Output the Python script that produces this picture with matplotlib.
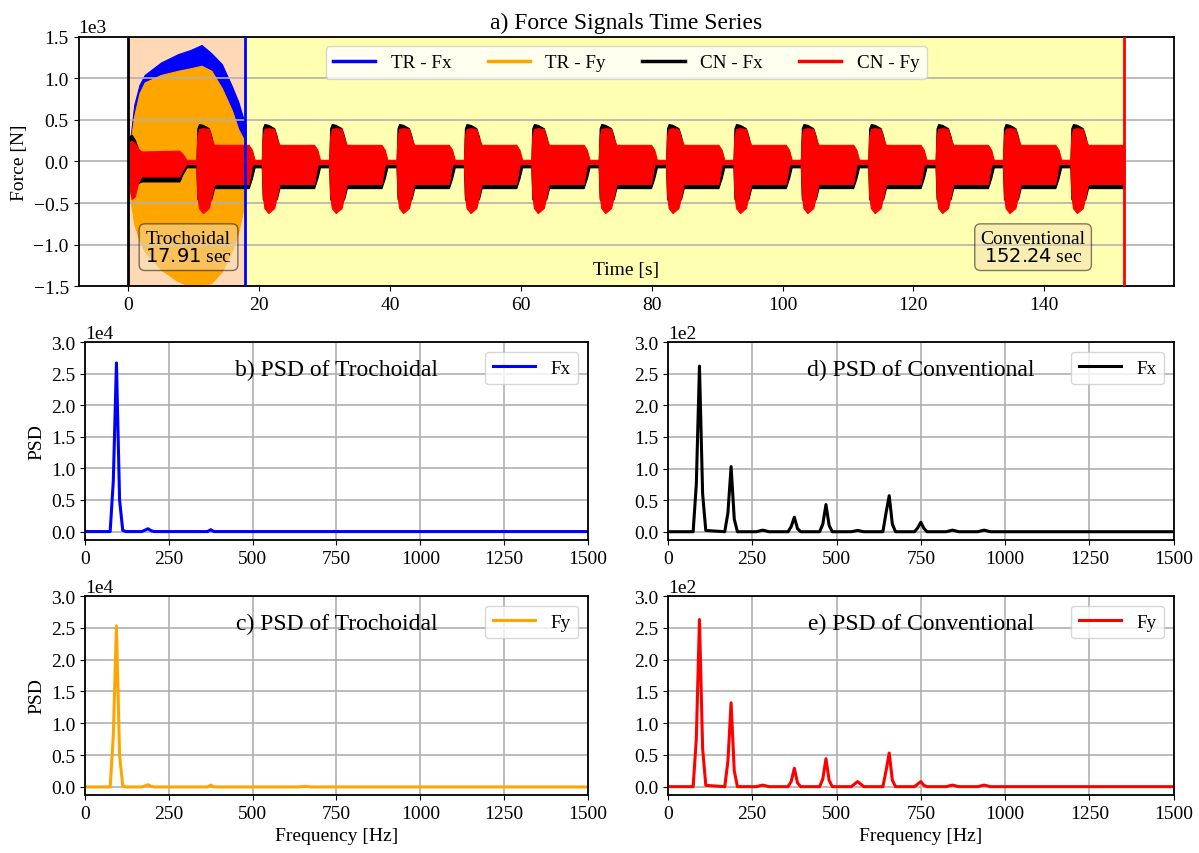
import matplotlib.pyplot as plt
import numpy as np
from matplotlib.lines import Line2D
from matplotlib.ticker import MultipleLocator

plt.rcParams['font.family'] = ['Liberation Serif', 'DejaVu Serif']
plt.rcParams['mathtext.fontset'] = 'dejavusans'
plt.rcParams['axes.linewidth'] = 1.3
plt.rcParams['grid.color'] = '#b0b0b0'
plt.rcParams['grid.linewidth'] = 1.2

# machining times [s]
tr_end = 17.91
cn_end = 152.24

# trochoidal force envelopes [N]
tr_t = [0, 0.4, 0.9, 1.7, 2.5, 5.0, 7.6, 9.5, 11.2, 12.7, 14.3, 15.8, 16.8, 17.6, 17.91]
tr_fx_hi = [250, 330, 680, 920, 1040, 1190, 1290, 1340, 1400, 1300, 1170, 910, 720, 510, 450]
tr_fx_lo = [0, 0, 0, 0, 0, 0, 0, 0, 0, 0, 0, 0, 0, 0, 0]
tr_fy_hi = [250, 270, 550, 820, 950, 1040, 1090, 1120, 1150, 1090, 880, 620, 390, 270, 200]
tr_fy_lo = [-250, -500, -750, -950, -1080, -1300, -1440, -1500, -1500, -1460, -1320, -1080, -850, -570, -350]

# conventional force envelopes [N], first (shorter) pass
cn_first_t = [0, 0.15, 0.5, 1.0, 1.5, 2.0, 7.8, 8.3, 8.9]
cn_first_fy_hi = [0, 230, 250, 220, 150, 120, 130, 90, 20]
cn_first_fy_lo = [0, -300, -450, -420, -250, -180, -180, -100, -30]
cn_first_fx_hi = [0, 300, 320, 260, 150, 100, 100, 60, -30]
cn_first_fx_lo = [-50, -290, -300, -290, -260, -240, -240, -150, -70]

# following passes: start times and envelope of one pass
cn_onsets = [10.4, 20.4, 30.7, 41.0, 51.3, 61.6, 71.9, 82.2, 92.5, 102.8, 113.1, 123.4, 133.7, 144.0]
pass_off = [0, 0.15, 0.4, 1.0, 1.9, 2.3, 2.7, 8.0, 8.5, 8.9]
pass_fy_hi = [20, 300, 390, 400, 390, 280, 200, 200, 140, 20]
pass_fy_lo = [-30, -400, -560, -620, -560, -420, -270, -270, -40, -30]
pass_fx_hi = [-30, 400, 450, 440, 400, 300, 150, 150, 60, -30]
pass_fx_lo = [-70, -450, -480, -500, -480, -450, -320, -320, -200, -70]

# PSD (breakpoints of the spectra)
f_tr = [0, 75, 84.4, 93.75, 103.1, 112.5, 121.9, 168.75, 178.1, 187.5, 196.9, 206.25,
        365.6, 375, 384.4, 637.5, 656.25, 675, 1500]
psd_tr_fx = [0, 0, 8000, 26700, 5000, 200, 0, 0, 200, 450, 150, 0, 0, 300, 0, 0, 0, 0, 0]
psd_tr_fy = [0, 0, 8000, 25300, 5000, 200, 0, 0, 150, 350, 100, 0, 0, 300, 0, 0, 100, 0, 0]

f_cn = [0, 75, 84.4, 93.75, 103.1, 112.5, 168.75, 178.1, 187.5, 196.9, 206.25,
        262.5, 281.25, 300, 356.25, 365.6, 375, 384.4, 393.75, 450, 459.4, 468.75, 478.1, 487.5,
        543.75, 562.5, 581.25, 637.5, 646.9, 656.25, 665.6, 675, 731.25, 740.6, 750, 759.4, 768.75,
        825, 843.75, 862.5, 918.75, 937.5, 956.25, 1500]
psd_cn_fx = [0, 0, 75, 262, 60, 2, 0, 30, 103, 20, 0,
             0, 2.5, 0, 0, 8, 23, 5, 0, 0, 12, 43, 10, 0,
             0, 2, 0, 0, 30, 57, 12, 0, 0, 6, 15, 5, 0,
             0, 2.5, 0, 0, 2.5, 0, 0]
psd_cn_fy = [0, 0, 75, 263, 60, 2, 0, 40, 132, 25, 0,
             0, 2.5, 0, 0, 8, 29, 6, 0, 0, 12, 44, 10, 0,
             0, 8, 0, 0, 25, 53, 10, 0, 0, 4, 8, 2, 0,
             0, 2.5, 0, 0, 2.5, 0, 0]

# assemble conventional envelopes
cn_t = list(cn_first_t)
cn_fy_hi = list(cn_first_fy_hi)
cn_fy_lo = list(cn_first_fy_lo)
cn_fx_hi = list(cn_first_fx_hi)
cn_fx_lo = list(cn_first_fx_lo)
for s in cn_onsets:
    for k, o in enumerate(pass_off):
        if s + o > cn_end:
            break
        cn_t.append(s + o)
        cn_fy_hi.append(pass_fy_hi[k])
        cn_fy_lo.append(pass_fy_lo[k])
        cn_fx_hi.append(pass_fx_hi[k])
        cn_fx_lo.append(pass_fx_lo[k])
cn_t.append(cn_end)
for a in (cn_fy_hi, cn_fy_lo, cn_fx_hi, cn_fx_lo):
    a.append(a[-1])

fig = plt.figure(figsize=(11.99, 8.54), dpi=100)
ax = fig.add_axes([0.0655, 0.6636, 0.9137, 0.2923])

ax.axvspan(0, tr_end, color='tab:orange', alpha=0.3, lw=0)
ax.axvspan(tr_end, cn_end, color='yellow', alpha=0.3, lw=0)

ax.fill_between(tr_t, tr_fx_lo, tr_fx_hi, color='blue', lw=0.8)
ax.fill_between(tr_t, tr_fy_lo, tr_fy_hi, color='orange', lw=0.8)
ax.fill_between(cn_t, cn_fx_lo, cn_fx_hi, color='black', lw=0.8, zorder=2)
ax.fill_between(cn_t, cn_fy_lo, cn_fy_hi, color='red', lw=0.8, zorder=2)

ax.axvline(0, color='black', lw=2, zorder=3)
ax.axvline(tr_end, color='blue', lw=2, zorder=3)
ax.axvline(cn_end, color='red', lw=2, zorder=3)

handles = [Line2D([], [], color='blue', lw=2.5), Line2D([], [], color='orange', lw=2.5),
           Line2D([], [], color='black', lw=2.5), Line2D([], [], color='red', lw=2.5)]
ax.legend(handles, ['TR - Fx', 'TR - Fy', 'CN - Fx', 'CN - Fy'], loc='upper center', ncol=4,
          fontsize=13.8, handlelength=2.2, columnspacing=1.9)

box = dict(boxstyle='round', facecolor='wheat', alpha=0.5)
ax.text(9.2, -1030, 'Trochoidal\n$%.2f$ sec' % tr_end, fontsize=14, ha='center', va='center',
        linespacing=1.0, bbox=box, zorder=4)
ax.text(138.3, -1030, 'Conventional\n$%.2f$ sec' % cn_end, fontsize=14, ha='center', va='center',
        linespacing=1.0, bbox=box, zorder=4)

ax.set_ylim(-1500, 1500)
ax.ticklabel_format(axis='y', style='sci', scilimits=(0, 0))
ax.grid(axis='y')
ax.set_ylabel('Force [N]', fontsize=14)
ax.set_xlabel('Time [s]', fontsize=14)
ax.xaxis.set_label_coords(0.5, 0.1)
ax.set_title('a) Force Signals Time Series', fontsize=17)
ax.tick_params(labelsize=14)
ax.yaxis.get_offset_text().set_fontsize(14)

psd_panels = [
    ([0.0709, 0.3665, 0.4195, 0.2318], f_tr, psd_tr_fx, 'blue', 'Fx', 'b) PSD of Trochoidal', 3e4),
    ([0.0709, 0.0679, 0.4195, 0.2330], f_tr, psd_tr_fy, 'orange', 'Fy', 'c) PSD of Trochoidal', 3e4),
    ([0.5570, 0.3665, 0.4220, 0.2318], f_cn, psd_cn_fx, 'black', 'Fx', 'd) PSD of Conventional', 3e2),
    ([0.5570, 0.0679, 0.4220, 0.2330], f_cn, psd_cn_fy, 'red', 'Fy', 'e) PSD of Conventional', 3e2),
]
for i, (rect, f, p, c, lab, title, top) in enumerate(psd_panels):
    a = fig.add_axes(rect)
    a.plot(f, p, color=c, lw=2.2, label=lab)
    a.set_xlim(0, 1500)
    a.set_ylim(top=top)
    a.xaxis.set_major_locator(MultipleLocator(250))
    a.yaxis.set_major_locator(MultipleLocator(top / 6))
    a.ticklabel_format(axis='y', style='sci', scilimits=(0, 0))
    a.grid(True)
    a.legend(loc='upper right', fontsize=13.8, handlelength=2.2)
    a.text(0.5, 0.86, title, transform=a.transAxes, ha='center', va='center', fontsize=17)
    a.tick_params(labelsize=14)
    a.yaxis.get_offset_text().set_fontsize(14)
    if i % 2 == 1:
        a.set_xlabel('Frequency [Hz]', fontsize=14)
    if i < 2:
        a.set_ylabel('PSD', fontsize=14)

fig.savefig('out.png', dpi=100)
